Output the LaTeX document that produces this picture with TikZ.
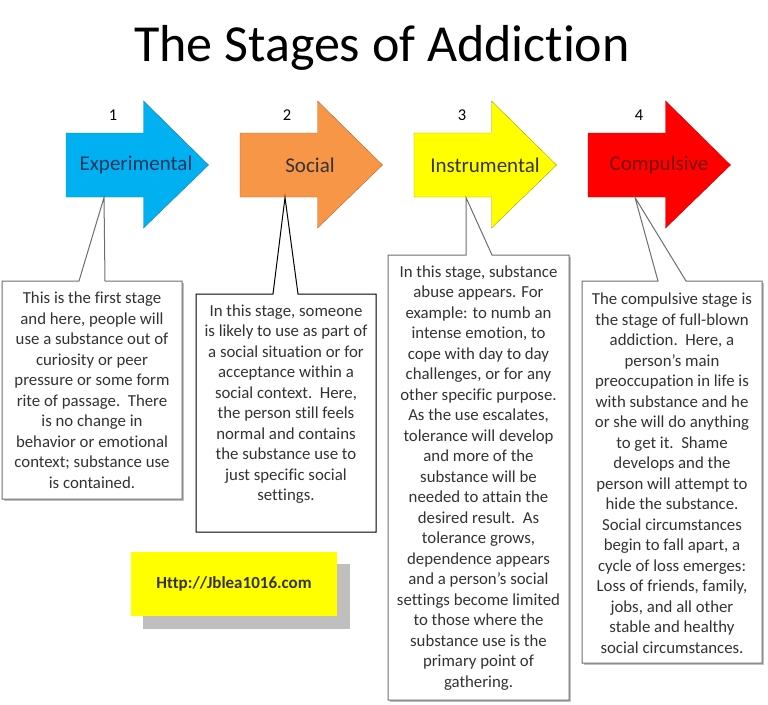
\documentclass[tikz,border=0pt]{standalone}
\usepackage{fontspec}
\setmainfont[Ligatures = {NoCommon}]{Carlito}
\usepackage{tikz}

\definecolor{expblue}{HTML}{00B0F0}
\definecolor{expline}{HTML}{1C7BB0}
\definecolor{exptext}{HTML}{17375E}
\definecolor{socorange}{HTML}{F79646}
\definecolor{socline}{HTML}{B5662E}
\definecolor{insyellow}{HTML}{FFFF00}
\definecolor{insline}{HTML}{A0A000}
\definecolor{comred}{HTML}{FF0000}
\definecolor{comline}{HTML}{C00000}
\definecolor{comtext}{HTML}{7A0000}
\definecolor{textgray}{HTML}{333333}
\definecolor{framegray}{HTML}{6E6E6E}
\definecolor{shadowgray}{HTML}{BFBFBF}

\begin{document}
\begin{tikzpicture}[x = 1pt, y = -1pt,
  stage/.style = {font = \fontsize{21}{25}\selectfont, text = textgray},
  num/.style = {font = \fontsize{16.5}{20}\selectfont, text = black},
  info/.style = {align = center, text = textgray, inner sep = 0pt,
    font = \fontsize{16.8}{20.5}\selectfont},
  frame/.style = {draw = framegray, fill = white, line width = 1pt}]
\useasboundingbox (0, 0) rectangle (768, 704);
\node (title) at (382, 48) {\fontsize{52}{62}\selectfont The Stages of Addiction};

% arrows
\draw[fill = expblue, draw = expline] (66, 133) -- (143.5, 133) -- (143.5, 101) -- (208.5, 165) 
  -- (143.5, 228) -- (143.5, 197) -- (66, 197) -- cycle;
\draw[fill = socorange, draw = socline] (240, 133) -- (317.5, 133) -- (317.5, 101) -- (382.5, 165) 
  -- (317.5, 228) -- (317.5, 197) -- (240, 197) -- cycle;
\draw[fill = insyellow, draw = insline] (414, 133) -- (491.5, 133) -- (491.5, 101) -- (556.5, 165) 
  -- (491.5, 228) -- (491.5, 197) -- (414, 197) -- cycle;
\draw[fill = comred, draw = comline] (588, 133) -- (665.5, 133) -- (665.5, 101) -- (730.5, 165) 
  -- (665.5, 228) -- (665.5, 197) -- (588, 197) -- cycle;

\node (exp) at (136, 165) [stage, text = exptext] {Experimental};
\node (soc) at (310, 165) [stage] {Social};
\node (ins) at (485, 165) [stage] {Instrumental};
\node (com) at (659, 165) [stage, text = comtext] {Compulsive};

\node (one) at (113, 115) [num] {1};
\node (two) at (287, 115) [num] {2};
\node (three) at (462, 115) [num] {3};
\node (four) at (639, 115) [num] {4};

% callouts
\coordinate (tipA) at (104, 197.5);
\coordinate (tipB) at (285, 197.5);
\coordinate (tipC) at (466, 197.5);
\coordinate (tipD) at (635, 197.5);
\fill[shadowgray] (3.5, 282.5) rectangle (183.5, 500.5);
\draw[frame] (2, 281) -- (79, 281) -- (tipA) -- (105, 281) -- (182, 281) 
  -- (182, 499) -- (2, 499) -- cycle;
\draw[frame, draw = black] (196, 294) -- (273, 294) -- (tipB) -- (298, 294) -- (376, 294) 
  -- (376, 532) -- (196, 532) -- cycle;
\fill[shadowgray] (389.5, 256.5) rectangle (570.5, 701.5);
\draw[frame] (388, 255) -- (466, 255) -- (tipC) -- (492, 255) -- (569, 255) 
  -- (569, 700) -- (388, 700) -- cycle;
\fill[shadowgray] (583.5, 282.5) rectangle (763.5, 664.5);
\draw[frame] (582, 281) -- (658, 281) -- (tipD) -- (686, 281) -- (762, 281) 
  -- (762, 663) -- (582, 663) -- cycle;

\node (expinfo) at (92, 390) [info] {This is the first stage\\and here, people will\\use a substance out of\\curiosity or peer\\pressure or some form\\rite of passage.\ \ There\\is no change in\\behavior or emotional\\context; substance use\\is contained.};
\node (socinfo) at (286, 404) [info] {In this stage, someone\\is likely to use as part of\\a social situation or for\\acceptance within a\\social context.\ \ Here,\\the person still feels\\normal and contains\\the substance use to\\just specific social\\settings.};
\node (insinfo) at (478.5, 478) [info] {In this stage, substance\\abuse appears. For\\example: to numb an\\intense emotion, to\\cope with day to day\\challenges, or for any\\other specific purpose.\\As the use escalates,\\tolerance will develop\\and more of the\\substance will be\\needed to attain the\\desired result.\ \ As\\tolerance grows,\\dependence appears\\and a person’s social\\settings become limited\\to those where the\\substance use is the\\primary point of\\gathering.};
\node (cominfo) at (672, 473) [info] {The compulsive stage is\\the stage of full-blown\\addiction.\ \ Here, a\\person’s main\\preoccupation in life is\\with substance and he\\or she will do anything\\to get it.\ \ Shame\\develops and the\\person will attempt to\\hide the substance.\\Social circumstances\\begin to fall apart, a\\cycle of loss emerges:\\Loss of friends, family,\\jobs, and all other\\stable and healthy\\social circumstances.};

% web address
\fill[shadowgray] (143, 564) rectangle (350, 629);
\fill[insyellow] (131, 552) rectangle (337, 616);
\node (web) at (234, 584) [font = \fontsize{17}{20}\selectfont\bfseries, text = textgray] {Http://Jblea1016.com};
\end{tikzpicture}
\end{document}
